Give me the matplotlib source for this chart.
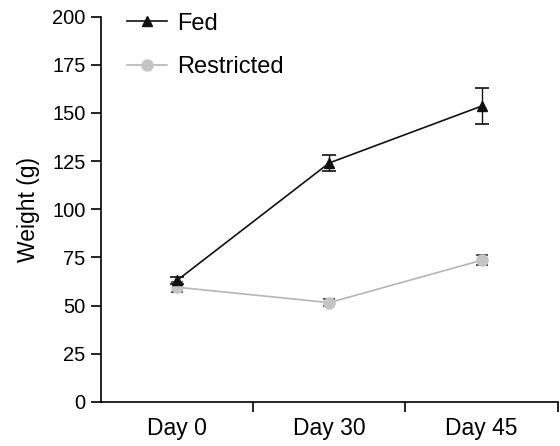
import numpy as np
import matplotlib.pyplot as plt
from matplotlib.lines import Line2D

plt.rcParams['font.family'] = ['Liberation Sans', 'DejaVu Sans']

days = ['Day 0', 'Day 30', 'Day 45']
fed = [63, 124, 153.5]
fed_err = [2, 4, 9.5]
restricted = [59.5, 51.5, 73.5]
restricted_err = [2.5, 2, 2.5]

fig = plt.figure(figsize=(5.6, 4.46), dpi=100)
ax = fig.add_axes([0.180, 0.099, 0.816, 0.864])

x = np.arange(len(days))
ax.errorbar(x, fed, yerr=fed_err, color='#111111', lw=1.2, marker='^',
            ms=7.5, capsize=5, elinewidth=1, capthick=1.2, ecolor='#111111',
            zorder=3)
ax.errorbar(x, restricted, yerr=restricted_err, color='#b5b5b5', lw=1.2,
            marker='o', ms=8, mfc='#c4c4c4', mec='#c4c4c4', capsize=4,
            elinewidth=1, capthick=1.2, ecolor='#333333', zorder=2)

ax.set_xlim(-0.5, 2.5)
ax.set_ylim(0, 200)
ax.set_yticks(np.arange(0, 201, 25))
ax.set_xticks(x)
ax.set_xticklabels(days, fontsize=16.5)
ax.set_xticks([0.5, 1.5, 2.5], minor=True)
ax.tick_params(axis='x', which='major', length=0, pad=11)
ax.tick_params(axis='x', which='minor', length=7, width=1.2, direction='out')
ax.tick_params(axis='y', labelsize=14.5, length=7, width=1.2, pad=4)
ax.set_ylabel('Weight (g)', fontsize=16.5, labelpad=9)

for s in ['top', 'right']:
    ax.spines[s].set_visible(False)
for s in ['left', 'bottom']:
    ax.spines[s].set_linewidth(1.2)

handles = [
    Line2D([], [], color='#111111', lw=1.2, marker='^', ms=7.5),
    Line2D([], [], color='#b5b5b5', lw=1.2, marker='o', ms=8,
           mfc='#c4c4c4', mec='#c4c4c4'),
]
ax.legend(handles, ['Fed', 'Restricted'], loc='upper left',
          bbox_to_anchor=(0.01, 1.065), frameon=False, fontsize=17,
          handlelength=1.7, handletextpad=0.45, labelspacing=0.9)

fig.savefig('out.png', dpi=100)
